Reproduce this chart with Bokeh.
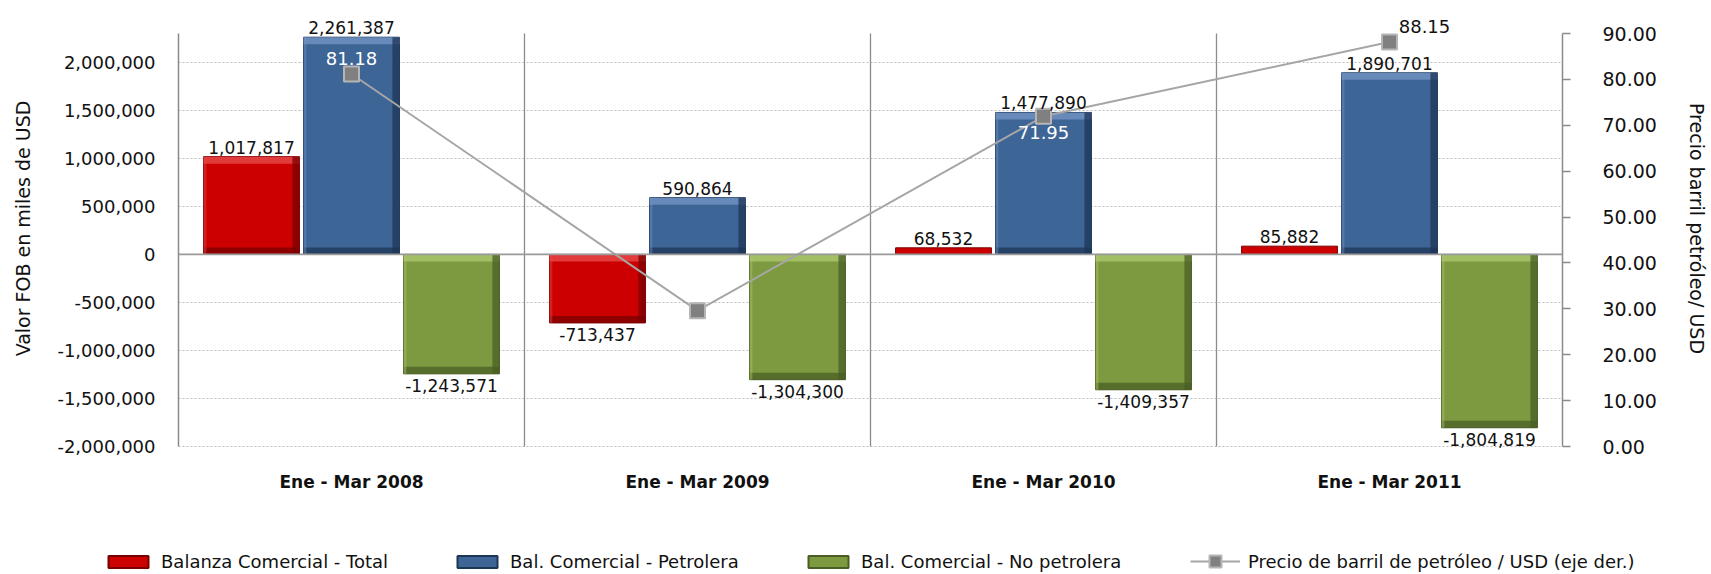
from bokeh.plotting import figure
from bokeh.models import (FactorRange, Range1d, LinearAxis, NumeralTickFormatter,
                          FixedTicker, Span, LabelSet, ColumnDataSource,
                          Legend, LegendItem)
from bokeh.layouts import column
from bokeh.transform import dodge
from bokeh.core.properties import value
from bokeh.embed import file_html
from bokeh.resources import INLINE

# ---------------- data ----------------
categories = ["Ene - Mar 2008", "Ene - Mar 2009", "Ene - Mar 2010", "Ene - Mar 2011"]
total = [1017817, -713437, 68532, 85882]
petrolera = [2261387, 590864, 1477890, 1890701]
no_petrolera = [-1243571, -1304300, -1409357, -1804819]
precio = [81.18, 29.6, 71.95, 88.15]

series_names = ["Balanza Comercial - Total", "Bal. Comercial - Petrolera",
                "Bal. Comercial - No petrolera"]
line_name = "Precio de barril de petróleo / USD (eje der.)"
left_title = "Valor FOB en miles de USD"
right_title = "Precio barril petróleo/ USD"

left_min, left_max, left_step = -2000000, 2300000, 500000
left_tick_max = 2000000
right_min, right_max, right_step = 0, 90, 10

# ---------------- layout / styles ----------------
FONT = "DejaVu Sans"
TXT = "#111111"
W, H_MAIN, H_LEG = 1711, 540, 34
FRAME_L, FRAME_R = 178, 1562          # data area, page px
DATA_TOP, DATA_BOT, FRAME_BOT = 33, 446, 456

bar_fill = ["#CC0000", "#3D6697", "#7E9A41"]
bar_light = ["#E54545", "#6E90C0", "#A9C46B"]
bar_dark = ["#7A0000", "#1E3655", "#4A5D24"]
bar_offsets = [-0.289, 0.0, 0.289]
bar_width = 0.277
bevel_px = 7
# price label: (position, colour, x offset) or None when not shown
price_label_style = [("above", "white", 0), None, ("below", "white", 0), ("above", TXT, 35)]

# scales (px per data unit)
sy_left = (DATA_BOT - DATA_TOP) / (left_max - left_min)
sy_right = (DATA_BOT - DATA_TOP) / (right_max - right_min)
y_end = left_max + DATA_TOP / sy_left
y_start = left_min - (FRAME_BOT - DATA_BOT) / sy_left
yr_end = right_max + DATA_TOP / sy_right
yr_start = right_min - (FRAME_BOT - DATA_BOT) / sy_right

p = figure(x_range=FactorRange(*categories), y_range=Range1d(y_start, y_end),
           width=W, height=H_MAIN, output_backend="svg", toolbar_location=None,
           min_border_left=FRAME_L, min_border_right=W - FRAME_R, min_border_top=0,
           min_border_bottom=H_MAIN - FRAME_BOT)
p.outline_line_color = None
p.frame_align = False

# grid
p.xgrid.grid_line_color = None
p.ygrid.grid_line_color = "#BDBDBD"
p.ygrid.grid_line_dash = "2 2"
p.ygrid.grid_line_width = 1

# left axis
p.yaxis.ticker = FixedTicker(ticks=list(range(left_min, left_tick_max + 1, left_step)))
p.yaxis.bounds = (left_min, left_max)
p.yaxis.formatter = NumeralTickFormatter(format="0,0")
p.yaxis.axis_line_color = "#8A8A8A"
p.yaxis.axis_line_width = 1.5
p.yaxis.major_tick_line_color = None
p.yaxis.minor_tick_line_color = None
p.yaxis.major_label_text_font = FONT
p.yaxis.major_label_text_font_size = "18px"
p.yaxis.major_label_text_color = TXT
p.yaxis.major_label_standoff = 17
p.yaxis.axis_label = left_title
p.yaxis.axis_label_text_font = FONT
p.yaxis.axis_label_text_font_size = "19px"
p.yaxis.axis_label_text_font_style = "normal"
p.yaxis.axis_label_text_color = TXT
p.yaxis.axis_label_standoff = 20

# bottom axis
p.xaxis.axis_line_color = None
p.xaxis.major_tick_line_color = None
p.xaxis.minor_tick_line_color = None
p.xaxis.major_label_text_font = FONT
p.xaxis.major_label_text_font_size = "17px"
p.xaxis.major_label_text_font_style = "bold"
p.xaxis.major_label_text_color = TXT
p.xaxis.major_label_standoff = 9

# right axis
p.extra_y_ranges = {"precio": Range1d(yr_start, yr_end)}
rax = LinearAxis(y_range_name="precio",
                 ticker=FixedTicker(ticks=list(range(right_min, right_max + 1, right_step))),
                 formatter=NumeralTickFormatter(format="0.00"))
rax.bounds = (right_min, right_max)
rax.axis_line_color = "#8A8A8A"
rax.axis_line_width = 1.5
rax.major_tick_line_color = "#8A8A8A"
rax.major_tick_line_width = 1.5
rax.major_tick_out = 8
rax.major_tick_in = 0
rax.minor_tick_line_color = None
rax.major_label_text_font = FONT
rax.major_label_text_font_size = "19px"
rax.major_label_text_color = TXT
rax.major_label_standoff = 32
rax.axis_label = right_title
rax.axis_label_text_font = FONT
rax.axis_label_text_font_size = "19px"
rax.axis_label_text_font_style = "normal"
rax.axis_label_text_color = TXT
rax.axis_label_standoff = 26
p.add_layout(rax, "right")

# category separators and zero line
sep_src = ColumnDataSource(dict(cat=categories[:-1],
                                y0=[left_min] * (len(categories) - 1),
                                y1=[left_max] * (len(categories) - 1)))
p.segment(x0=dodge("cat", 0.5, range=p.x_range), x1=dodge("cat", 0.5, range=p.x_range),
          y0="y0", y1="y1", source=sep_src, line_color="#8C8C8C", line_width=1.3)
p.add_layout(Span(location=0, dimension="width", line_color="#9A9A9A", line_width=1.8))

# bars (with a simple bevel)
dy = bevel_px / sy_left
dx = bevel_px / (FRAME_R - FRAME_L) * len(categories)
series_vals = [total, petrolera, no_petrolera]
for k, vals in enumerate(series_vals):
    off = bar_offsets[k]
    src = ColumnDataSource(dict(cat=categories, v=vals))
    p.vbar(x=dodge("cat", off, range=p.x_range), top="v", bottom=0, width=bar_width,
           source=src, fill_color=bar_fill[k], line_color=bar_dark[k], line_width=1)
    idx = [i for i, v in enumerate(vals) if abs(v) > 3 * dy]
    hi = [max(vals[i], 0) for i in idx]
    lo = [min(vals[i], 0) for i in idx]
    bsrc = ColumnDataSource(dict(cat=[categories[i] for i in idx],
                                 hi=hi, lo=lo,
                                 hi_in=[h - dy for h in hi], lo_in=[l + dy for l in lo]))
    L = dodge("cat", off - bar_width / 2, range=p.x_range)
    R = dodge("cat", off + bar_width / 2, range=p.x_range)
    R_in = dodge("cat", off + bar_width / 2 - dx, range=p.x_range)
    L_in = dodge("cat", off - bar_width / 2 + dx * 0.4, range=p.x_range)
    p.quad(left=L, right=R, top="lo_in", bottom="lo", source=bsrc,
           fill_color=bar_dark[k], fill_alpha=0.75, line_color=None)
    p.quad(left=L, right=L_in, top="hi", bottom="lo", source=bsrc,
           fill_color=bar_light[k], fill_alpha=0.45, line_color=None)
    p.quad(left=L, right=R, top="hi", bottom="hi_in", source=bsrc,
           fill_color=bar_light[k], fill_alpha=0.85, line_color=None)
    p.quad(left=R_in, right=R, top="hi", bottom="lo", source=bsrc,
           fill_color=bar_dark[k], fill_alpha=0.75, line_color=None)

# price line
psrc = ColumnDataSource(dict(cat=categories, precio=precio))
ln_style = dict(line_color="#A6A6A6", line_width=2)
mk_style = dict(marker="square", size=15, fill_color="#808080", line_color="#B5B5B5", line_width=2)
p.line(x="cat", y="precio", source=psrc, y_range_name="precio", **ln_style)
p.scatter(x="cat", y="precio", source=psrc, y_range_name="precio", **mk_style)

# data labels for bars
for k, vals in enumerate(series_vals):
    off = bar_offsets[k]
    for positive in (True, False):
        idx = [i for i, v in enumerate(vals) if (v >= 0) == positive]
        if not idx:
            continue
        s = ColumnDataSource(dict(cat=[categories[i] for i in idx],
                                  y=[vals[i] for i in idx],
                                  txt=[f"{vals[i]:,}" for i in idx]))
        p.add_layout(LabelSet(x=dodge("cat", off, range=p.x_range), y="y", text="txt",
                              source=s, text_align="center",
                              text_baseline="bottom" if positive else "top",
                              y_offset=3 if positive else -5,
                              text_font=value(FONT), text_font_size="17px",
                              text_color=TXT))

# price labels
for i, st in enumerate(price_label_style):
    if st is None:
        continue
    pos, colr, xo = st
    s = ColumnDataSource(dict(cat=[categories[i]], y=[precio[i]], txt=[f"{precio[i]:.2f}"]))
    p.add_layout(LabelSet(x="cat", y="y", text="txt", source=s, y_range_name="precio",
                          text_align="center",
                          text_baseline="bottom" if pos == "above" else "top",
                          y_offset=9 if pos == "above" else -10, x_offset=xo,
                          text_font=value(FONT), text_font_size="18px", text_color=colr))

# ---------------- legend strip ----------------
lg = figure(width=W, height=H_LEG, x_range=Range1d(0, W), y_range=Range1d(0, H_LEG),
            output_backend="svg", toolbar_location=None, x_axis_location=None,
            y_axis_location=None, min_border=0)
lg.frame_align = False
lg.outline_line_color = None
lg.xgrid.grid_line_color = None
lg.ygrid.grid_line_color = None
nan = float("nan")
placeholder = ColumnDataSource(dict(x=[nan], y=[nan]))   # legend swatches only
leg_rends = []
for k in range(3):
    leg_rends.append([lg.vbar(x="x", top="y", width=1, source=placeholder,
                              fill_color=bar_fill[k], line_color=bar_dark[k], line_width=2)])
leg_rends.append([lg.line(x="x", y="y", source=placeholder, **ln_style),
                  lg.scatter(x="x", y="y", source=placeholder, **mk_style)])
legend_x = [103, 452, 803, 1190]
legend_gh = [15, 15, 15, 30]
legend_y = [2, 2, 2, -2]
for lab, rends, lx, gh, ly in zip(series_names + [line_name], leg_rends, legend_x,
                                  legend_gh, legend_y):
    lg.add_layout(Legend(items=[LegendItem(label=lab, renderers=rends)], location=(lx, ly),
                         orientation="horizontal", glyph_width=50, glyph_height=gh,
                         label_text_font=FONT, label_text_font_size="18px",
                         label_text_color=TXT, label_standoff=8, padding=0, margin=0,
                         border_line_color=None, background_fill_alpha=0, spacing=0),
                  "center")

layout = column(p, lg, spacing=0)
open("out.html", "w").write(file_html(layout, INLINE))
